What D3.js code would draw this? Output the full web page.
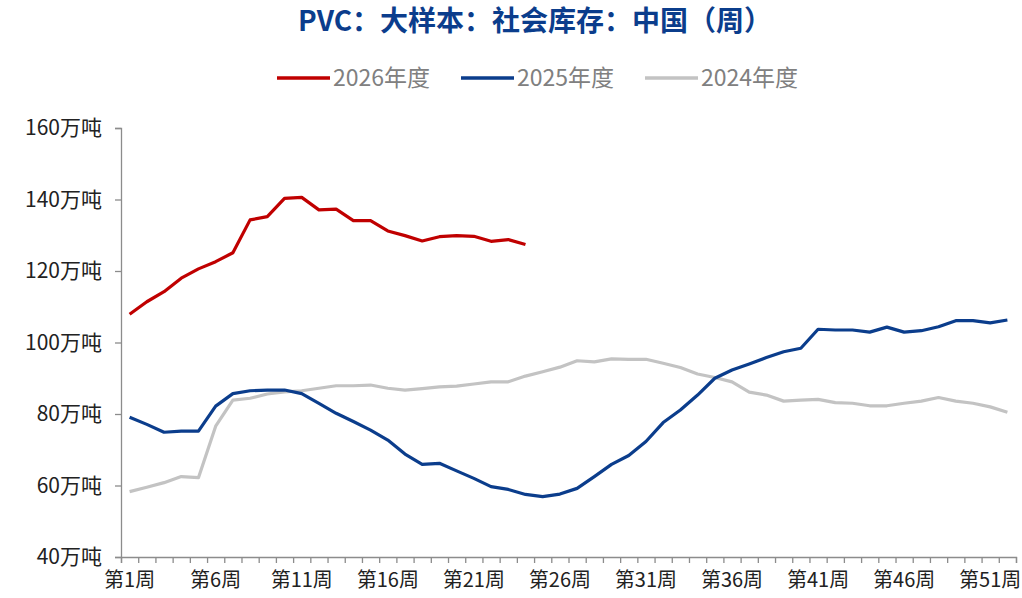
<!DOCTYPE html>
<html lang="zh">
<head>
<meta charset="utf-8">
<script src="https://d3js.org/d3.v7.min.js"></script>
<style>
  body { margin: 0; background: #fff; }
  text { font-family: "Noto Sans CJK SC", sans-serif; }
</style>
</head>
<body>
<script>
  // weekly social inventory, 万吨
  var weeks = d3.range(1, 53);
  var v2026 = [107.9, 111.4, 114.2, 118.0, 120.6, 122.6, 125.1, 134.3, 135.2, 140.3, 140.6, 137.1,
               137.3, 134.1, 134.1, 131.2, 129.9, 128.4, 129.6, 129.9, 129.7, 128.3, 128.8, 127.4];
  var v2025 = [79.1, 77.1, 74.9, 75.2, 75.2, 82.2, 85.7, 86.5, 86.7, 86.7, 85.7, 83.0,
               80.2, 77.9, 75.5, 72.7, 68.8, 65.9, 66.2, 64.1, 62.0, 59.7, 58.9, 57.5,
               56.9, 57.6, 59.2, 62.5, 65.9, 68.4, 72.3, 77.6, 81.1, 85.3, 90.0, 92.3,
               94.0, 95.8, 97.4, 98.4, 103.7, 103.5, 103.5, 102.9, 104.3, 102.9, 103.3, 104.4,
               106.1, 106.1, 105.5, 106.3];
  var v2024 = [58.3, 59.5, 60.8, 62.5, 62.2, 76.6, 83.9, 84.4, 85.6, 86.2, 86.5, 87.2,
               87.9, 87.9, 88.1, 87.2, 86.7, 87.1, 87.6, 87.8, 88.4, 89.0, 89.0, 90.6,
               91.8, 93.1, 94.9, 94.6, 95.4, 95.3, 95.3, 94.2, 93.0, 91.2, 90.2, 89.0,
               86.1, 85.3, 83.6, 83.9, 84.1, 83.2, 83.0, 82.3, 82.3, 83.0, 83.6, 84.6,
               83.6, 83.0, 82.0, 80.5];
  var seriesNames = ["2026年度", "2025年度", "2024年度"];
  var seriesColors = ["#c00000", "#0b3d8c", "#c3c3c3"];
  var yTicks = [40, 60, 80, 100, 120, 140, 160];
  var labelWeeks = [1, 6, 11, 16, 21, 26, 31, 36, 41, 46, 51];

  var w = 1022, h = 598;
  var plotL = 121, plotR = 1016, plotT = 128, plotB = 557;

  var svg = d3.select("body").append("svg")
    .attr("width", w)
    .attr("height", h);

  var x = d3.scaleBand().domain(weeks).range([plotL, plotR]).padding(0);
  var xEdge = d3.scaleLinear().domain([0, 52]).range([plotL, plotR]);
  var y = d3.scaleLinear().domain([40, 160]).range([plotB, plotT]);

  // title
  svg.append("text")
    .attr("x", 535).attr("y", 31)
    .attr("text-anchor", "middle")
    .style("font-weight", "bold")
    .style("font-size", "28px")
    .style("fill", "#0b3d8c")
    .text("PVC：大样本：社会库存：中国（周）");

  // legend
  var legendX = [277, 461, 645];
  var lg = svg.selectAll("g.legend")
    .data(seriesNames)
    .join("g")
    .attr("class", "legend")
    .attr("transform", function(d, i) { return `translate(${legendX[i]}, 78)`; });
  lg.append("line")
    .attr("x1", 0).attr("x2", 53)
    .attr("stroke", function(d, i) { return seriesColors[i]; })
    .attr("stroke-width", 3.5);
  lg.append("text")
    .attr("x", 56).attr("y", 8)
    .style("font-size", "23px")
    .style("fill", "#808080")
    .text(function(d) { return d; });

  // y axis
  var yAxis = svg.append("g")
    .attr("transform", `translate(${plotL},0)`)
    .call(d3.axisLeft(y).tickValues(yTicks).tickSize(6).tickPadding(13)
      .tickFormat(function(d) { return d + "万吨"; }));
  yAxis.selectAll("text").style("font-size", "21px").style("fill", "#222");

  // x axis: tick marks between bands, labels every 5th week
  svg.append("g")
    .attr("transform", `translate(0,${plotB})`)
    .call(d3.axisBottom(xEdge).tickValues(d3.range(0, 53)).tickSize(6).tickFormat(""));
  var xLabels = svg.append("g")
    .attr("transform", `translate(0,${plotB})`)
    .call(d3.axisBottom(x).tickValues(labelWeeks).tickSize(0).tickPadding(16)
      .tickFormat(function(d) { return "第" + d + "周"; }));
  xLabels.select(".domain").remove();
  xLabels.selectAll("text").style("font-size", "20px").style("fill", "#222");

  svg.selectAll(".domain, .tick line").attr("stroke", "#8c8c8c").attr("stroke-width", 1.3);

  // lines
  var line = d3.line()
    .x(function(d, i) { return x(weeks[i]) + x.bandwidth() / 2; })
    .y(function(d) { return y(d); });

  var data = [v2024, v2025, v2026];
  var cols = [seriesColors[2], seriesColors[1], seriesColors[0]];
  svg.selectAll("path.series")
    .data(data)
    .join("path")
    .attr("class", "series")
    .attr("fill", "none")
    .attr("stroke", function(d, i) { return cols[i]; })
    .attr("stroke-width", 3.2)
    .attr("stroke-linejoin", "round")
    .attr("d", line);
</script>
</body>
</html>
